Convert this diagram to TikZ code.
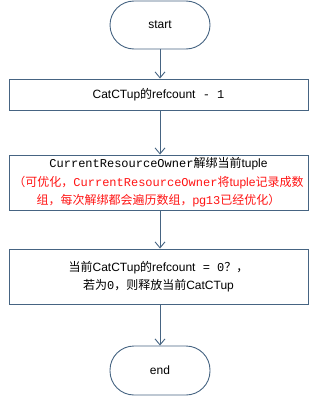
\documentclass[tikz,border=0pt]{standalone}
\usepackage{fontspec}
\setmainfont{Liberation Sans}
\setmonofont{Liberation Mono}
\newfontfamily\cjk{Noto Sans CJK SC}
\newcommand{\zh}[1]{{\cjk #1}}
\usetikzlibrary{arrows.meta}
\definecolor{edge}{RGB}{70,100,130}
\definecolor{redtxt}{RGB}{255,20,20}
\begin{document}
\begin{tikzpicture}[x=1pt,y=1pt,
  every node/.style={font=\fontsize{12}{18.5}\selectfont},
  terminal/.style={draw=edge,line width=0.9pt,rounded corners=24pt,minimum width=100pt,inner sep=0pt},
  procbox/.style={draw=edge,line width=0.9pt,minimum width=299pt,inner sep=0pt,align=center},
  flow/.style={draw=edge,line width=0.9pt,-{Straight Barb[length=6pt,width=10pt,line width=0.9pt]}}]
\useasboundingbox (0,0) rectangle (318,-396);
\node[terminal,minimum height=48pt] (start) at (160,-25) {start};
\node[procbox,minimum height=31pt] (b1) at (158.5,-94.5) {CatCTup\zh{的}refcount\texttt{ - 1}};
\node[procbox,minimum height=55pt] (b2) at (158.5,-182.5) {\texttt{CurrentResourceOwner}\zh{解绑当前}tuple\\
 \color{redtxt}\zh{（可优化，}\texttt{CurrentResourceOwner}\zh{将}tuple\zh{记录成数}\\
 \color{redtxt}\zh{组，每次解绑都会遍历数组，}pg\texttt{13}\zh{已经优化）}};
\node[procbox,minimum height=55pt] (b3) at (158.5,-276.5) {\zh{当前}CatCTup\zh{的}refcount\texttt{ = 0}\zh{？，}\\
 \zh{若为}\texttt{0}\zh{，则释放当前}CatCTup};
\node[terminal,minimum height=49pt] (end) at (160,-370.5) {end};
\draw[flow] (start.south) -- (start.south |- b1.north);
\draw[flow] (start.south |- b1.south) -- (start.south |- b2.north);
\draw[flow] (start.south |- b2.south) -- (start.south |- b3.north);
\draw[flow] (start.south |- b3.south) -- (end.north);
\end{tikzpicture}
\end{document}
